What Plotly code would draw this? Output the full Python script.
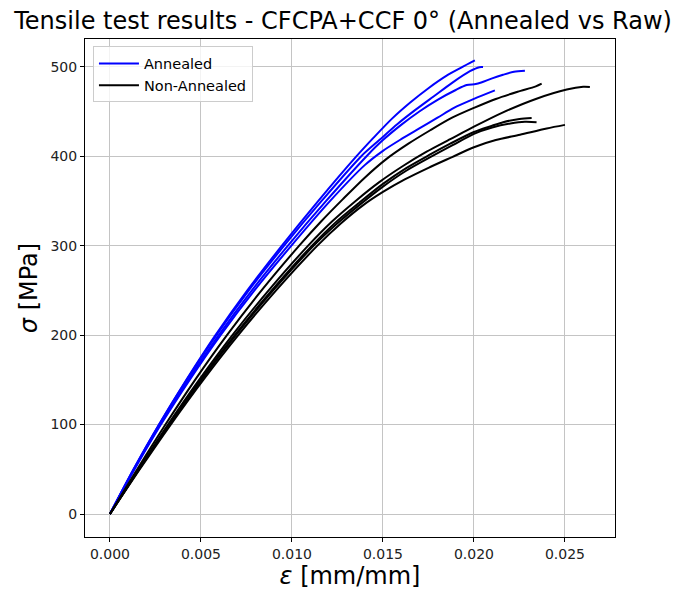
import plotly.graph_objects as go

# Annealed specimens (strain [mm/mm], stress [MPa])
a1_eps = [0, 0.0013, 0.0027, 0.0042, 0.0058, 0.00755, 0.00945, 0.01145, 0.01355, 0.0145, 0.0155, 0.0165, 0.0175, 0.0185, 0.0193, 0.02005]
a1_sig = [0, 50, 100, 150, 200, 250, 300, 350, 400, 421, 442, 460, 476, 490, 499, 507]
a2_eps = [0, 0.0013, 0.0027, 0.00422, 0.00585, 0.00763, 0.00957, 0.01163, 0.01381, 0.0148, 0.0158, 0.0168, 0.0178, 0.0188, 0.01978, 0.0203, 0.0205]
a2_sig = [0, 50, 100, 150, 200, 250, 300, 350, 400, 418, 436, 452, 467, 482, 495, 499.5, 499.6]
a3_eps = [0, 0.00133, 0.00276, 0.00431, 0.00598, 0.0078, 0.00978, 0.01188, 0.0141, 0.0150, 0.0160, 0.0170, 0.0180, 0.0190, 0.0196, 0.0201, 0.0204, 0.0210, 0.0216, 0.0222, 0.0228]
a3_sig = [0, 50, 100, 150, 200, 250, 300, 350, 400, 418, 435, 450, 463, 474, 479.5, 480.6, 482.4, 487, 491, 494.4, 495.5]
a4_eps = [0, 0.00135, 0.0028, 0.00438, 0.00608, 0.00794, 0.00997, 0.0121, 0.0140, 0.0150, 0.0160, 0.0170, 0.0180, 0.0189, 0.0200, 0.02115]
a4_sig = [0, 50, 100, 150, 200, 250, 300, 350, 390, 406, 419, 431, 443, 454, 464, 473.5]

# Non-annealed specimens
n1_eps = [0, 0.0015, 0.00305, 0.00468, 0.00643, 0.00833, 0.0104, 0.0116, 0.0128, 0.0140, 0.0152, 0.0164, 0.0176, 0.0188, 0.0200, 0.0212, 0.0224, 0.0234, 0.02372]
n1_sig = [0, 50, 100, 150, 200, 250, 300, 327, 352, 376, 397, 414, 429, 443, 454, 464, 472, 478, 481]
n2_eps = [0, 0.00157, 0.00319, 0.0049, 0.00673, 0.00872, 0.01089, 0.0122, 0.0135, 0.0148, 0.0161, 0.0174, 0.0187, 0.0200, 0.0216, 0.0234, 0.0251, 0.0260, 0.02637]
n2_sig = [0, 50, 100, 150, 200, 250, 300, 327, 350, 371, 389, 405, 419, 433, 449, 464, 474.5, 477.5, 477.3]
n3_eps = [0, 0.0016, 0.00325, 0.00499, 0.00686, 0.00889, 0.0111, 0.0124, 0.0137, 0.0150, 0.0163, 0.0176, 0.0187, 0.0200, 0.0210, 0.0216, 0.0225, 0.02317]
n3_sig = [0, 50, 100, 150, 200, 250, 300, 326, 348, 369, 387, 402, 414, 427, 434, 438, 441.5, 442.6]
n4_eps = [0, 0.00161, 0.00328, 0.00503, 0.00692, 0.00897, 0.0112, 0.0125, 0.0138, 0.0150, 0.0163, 0.0177, 0.0188, 0.0200, 0.0210, 0.0220, 0.0228, 0.02344]
n4_sig = [0, 50, 100, 150, 200, 250, 300, 325, 347, 366, 384, 400, 412, 425, 432, 436.5, 438.5, 438]
n5_eps = [0, 0.00164, 0.00334, 0.00513, 0.00705, 0.00913, 0.0114, 0.0127, 0.0139, 0.0150, 0.0162, 0.0175, 0.0188, 0.0200, 0.0212, 0.02253, 0.0240, 0.0250]
n5_sig = [0, 50, 100, 150, 200, 250, 300, 325, 345, 360, 374, 387, 399, 410, 418, 424, 431, 435]

annealed = [(a1_eps, a1_sig), (a2_eps, a2_sig), (a3_eps, a3_sig), (a4_eps, a4_sig)]
raw = [(n1_eps, n1_sig), (n2_eps, n2_sig), (n3_eps, n3_sig), (n4_eps, n4_sig), (n5_eps, n5_sig)]

x_ticks = [0, 0.005, 0.010, 0.015, 0.020, 0.025]
y_ticks = [0, 100, 200, 300, 400, 500]

fig = go.Figure()
for i, (e, s) in enumerate(annealed):
    fig.add_trace(go.Scatter(x=e, y=s, mode="lines", line=dict(color="#0000ff", width=2, shape="spline", smoothing=0.8),
                             name="Annealed", legendgroup="a", showlegend=(i == 0)))
for i, (e, s) in enumerate(raw):
    fig.add_trace(go.Scatter(x=e, y=s, mode="lines", line=dict(color="#000000", width=2, shape="spline", smoothing=0.8),
                             name="Non-Annealed", legendgroup="n", showlegend=(i == 0)))

font = "DejaVu Sans"
axis_common = dict(
    showgrid=True, gridcolor="#c4c4c4", gridwidth=1,
    showline=True, linecolor="#000000", linewidth=1, mirror=True,
    ticks="outside", ticklen=4, tickcolor="#000000", tickwidth=1,
    zeroline=False, tickfont=dict(family=font, size=14, color="#222222"),
)
fig.update_layout(
    width=678, height=595,
    margin=dict(l=85, r=63, t=39, b=58),
    paper_bgcolor="white", plot_bgcolor="white",
    title=dict(text="Tensile test results - CFCPA+CCF 0° (Annealed vs Raw)",
               x=0.506, xanchor="center", y=0.965, yanchor="middle",
               font=dict(family=font, size=24, color="#000000")),
    xaxis=dict(range=[-0.00137, 0.02775], tickvals=x_ticks, tickformat=".3f",
               title=dict(text="<i>ε</i> [mm/mm]", font=dict(family=font, size=24, color="#000000"), standoff=4),
               **axis_common),
    yaxis=dict(range=[-25.7, 531], tickvals=y_ticks,
               title=dict(text="<i>σ</i> [MPa]", font=dict(family=font, size=24, color="#000000"), standoff=6),
               **axis_common),
    legend=dict(x=0.015, y=0.985, xanchor="left", yanchor="top",
                bgcolor="rgba(255,255,255,0.8)", bordercolor="#cccccc", borderwidth=1,
                font=dict(family=font, size=14.5, color="#000000"), tracegroupgap=0,
                itemwidth=40),
    showlegend=True,
)

fig.write_html("out.html")
